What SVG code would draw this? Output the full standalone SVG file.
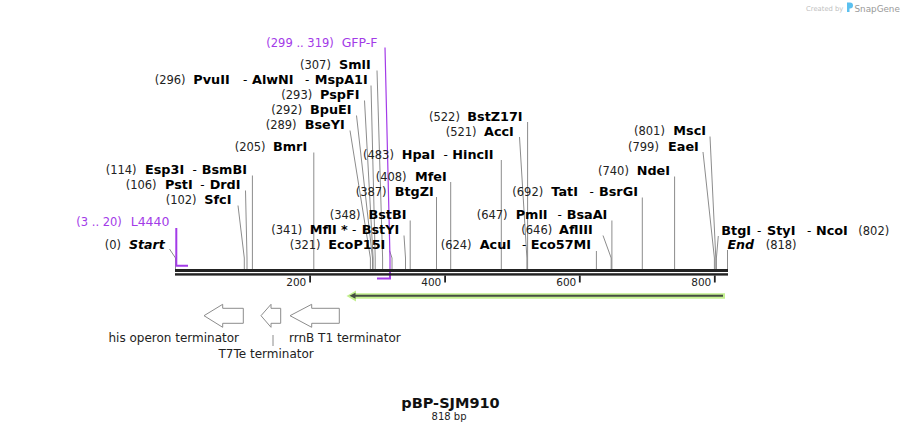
<svg xmlns="http://www.w3.org/2000/svg" width="904" height="435" viewBox="0 0 904 435">
<style>
text{font-family:"DejaVu Sans",Verdana,sans-serif}
.n{font-size:11.5px;fill:#222}
.e{font-size:12.8px;font-weight:bold;fill:#000}
.bi{font-size:12.6px;font-weight:bold;font-style:italic;fill:#000}
.d{font-size:12px;fill:#000}
.p{fill:#a33be8}
.pn{font-size:12.5px;fill:#a33be8}
.c{stroke:#8c8c8c;stroke-width:1;fill:none}
.t{font-size:12px;fill:#222}
.term{fill:#fff;stroke:#8c8c8c;stroke-width:1}
.tick{font-size:10.5px;fill:#222}
</style>
<rect width="904" height="435" fill="#fff"/>

<g id="logo">
<text x="806" y="10.5" font-size="6.8" fill="#c0c0c0">Created by</text>
<path d="M847 2.5 h3 a3 3 0 0 1 0 6 h-0.5 v3.5 h-2.5 z" fill="#5bc0ef"/>
<text x="854.5" y="11.5" font-size="8.8" fill="#999">SnapGene</text>
</g>

<g id="connectors">
<path class="c" d="M377 70.5 L382.6 258 V269"/>
<path class="c" d="M371 85.5 L375.2 258 V269"/>
<path class="c" d="M364.5 100.5 L373.1 258 V269"/>
<path class="c" d="M356.5 115.5 L372.5 258 V269"/>
<path class="c" d="M350 130.5 L370.4 258 V269"/>
<path class="c" d="M313.8 152.5 V269"/>
<path class="c" d="M501.3 160 V269"/>
<path class="c" d="M252.4 175.5 V269"/>
<path class="c" d="M450.7 182 V269"/>
<path class="c" d="M245.5 190.5 L247 258 V269"/>
<path class="c" d="M436.5 197 V269"/>
<path class="c" d="M238 205.5 L244.3 258 V269"/>
<path class="c" d="M410.2 220.5 V269"/>
<path class="c" d="M404 235.5 L405.5 258 V269"/>
<path class="c" d="M169.5 249 L175.5 258 V269"/>
<path class="c" d="M389.5 250.5 L392 258 V269"/>
<path class="c" d="M527.6 122 V269"/>
<path class="c" d="M519.5 137 L526.9 258 V269"/>
<path class="c" d="M642.3 197.5 V269"/>
<path class="c" d="M611.9 220.5 V269"/>
<path class="c" d="M603 235.5 L611.2 258 V269"/>
<path class="c" d="M596.4 251 V269"/>
<path class="c" d="M674.6 176.5 V269"/>
<path class="c" d="M710 136.5 L715.8 258 V269"/>
<path class="c" d="M703 152 L714.4 258 V269"/>
<path class="c" d="M718.3 236 L716.4 258 V269"/>
<path class="c" d="M727.5 250 V269"/>
<path d="M385 47.5 L390 258 V278.5" fill="none" stroke="#a33be8" stroke-width="1.2"/>
<line x1="273" y1="335" x2="273" y2="346" class="c"/>
</g>

<g id="primer-GFP-F">
<path d="M390 271 V278.5 H377" fill="none" stroke="#a33be8" stroke-width="2"/>
<text class="n p" x="266.3" y="46.5">(299 .. 319)</text>
<text class="pn" x="341.7" y="46.5">GFP-F</text>
</g>
<g id="primer-L4440">
<path d="M176.3 228 V265.8 H188" fill="none" stroke="#a33be8" stroke-width="2"/>
<text class="n p" x="76.3" y="226">(3 .. 20)</text>
<text class="pn" x="130.7" y="226">L4440</text>
</g>

<g id="axis">
<rect x="175" y="269" width="553" height="3" fill="#222"/>
<rect x="175" y="273.2" width="553" height="2.4" fill="#222"/>
<rect x="309.2" y="275.5" width="1.8" height="7" fill="#222"/>
<rect x="444.2" y="275.5" width="1.8" height="7" fill="#222"/>
<rect x="578.9" y="275.5" width="1.8" height="7" fill="#222"/>
<rect x="713.9" y="275.5" width="1.8" height="7" fill="#222"/>
<text class="tick" x="306.3" y="286" text-anchor="end">200</text>
<text class="tick" x="441.3" y="286" text-anchor="end">400</text>
<text class="tick" x="576.3" y="286" text-anchor="end">600</text>
<text class="tick" x="711.3" y="286" text-anchor="end">800</text>
</g>

<g id="feature-arrow">
<path d="M352 296 H725" stroke="#c3f08f" stroke-width="5.5" fill="none"/>
<polygon points="346.5,296 356,290.5 356,301.5" fill="#c3f08f"/>
<path d="M354 295.8 H723" stroke="#454d42" stroke-width="2" fill="none"/>
<polygon points="349.5,295.8 355.5,292.8 355.5,298.8" fill="#454d42"/>
</g>

<g id="his-operon-terminator">
<polygon class="term" points="204,315.7 222.7,304.3 222.7,308.3 243.3,308.3 243.3,323.3 222.7,323.3 222.7,327.3"/>
<text class="t" x="108.5" y="341.5">his operon terminator</text>
</g>
<g id="T7Te-terminator">
<polygon class="term" points="261,315.7 271,304.3 271,308.3 280.7,308.3 280.7,323.3 271,323.3 271,327.3"/>
<text class="t" x="218.5" y="357.5">T7Te terminator</text>
</g>
<g id="rrnB-T1-terminator">
<polygon class="term" points="290,315.7 311.7,304.3 311.7,308.3 339.3,308.3 339.3,323.3 311.7,323.3 311.7,327.3"/>
<text class="t" x="289" y="341.5">rrnB T1 terminator</text>
</g>

<g id="SmlI"><text class="n" x="300" y="68.8">(307)</text><text class="e" x="339" y="68.8">SmlI</text></g>
<g id="PvuII"><text class="n" x="154.7" y="84">(296)</text><text class="e" x="193.3" y="84">PvuII</text><text class="d" x="243" y="84">-</text><text class="e" x="252" y="84">AlwNI</text><text class="d" x="305" y="84">-</text><text class="e" x="314.7" y="84">MspA1I</text></g>
<g id="PspFI"><text class="n" x="281.3" y="99">(293)</text><text class="e" x="320" y="99">PspFI</text></g>
<g id="BpuEI"><text class="n" x="271.3" y="114">(292)</text><text class="e" x="310" y="114">BpuEI</text></g>
<g id="BseYI"><text class="n" x="265.7" y="129">(289)</text><text class="e" x="304.7" y="129">BseYI</text></g>
<g id="BmrI"><text class="n" x="234.7" y="150.7">(205)</text><text class="e" x="273" y="150.7">BmrI</text></g>
<g id="HpaI"><text class="n" x="363" y="158.5">(483)</text><text class="e" x="401.7" y="158.5">HpaI</text><text class="d" x="443.5" y="158.5">-</text><text class="e" x="452.3" y="158.5">HincII</text></g>
<g id="Esp3I"><text class="n" x="105.7" y="174">(114)</text><text class="e" x="145" y="174">Esp3I</text><text class="d" x="192.5" y="174">-</text><text class="e" x="201.7" y="174">BsmBI</text></g>
<g id="MfeI"><text class="n" x="375.7" y="180.5">(408)</text><text class="e" x="415" y="180.5">MfeI</text></g>
<g id="PstI"><text class="n" x="125.7" y="189">(106)</text><text class="e" x="165" y="189">PstI</text><text class="d" x="200.3" y="189">-</text><text class="e" x="209.7" y="189">DrdI</text></g>
<g id="BtgZI"><text class="n" x="355.7" y="195.7">(387)</text><text class="e" x="394.7" y="195.7">BtgZI</text></g>
<g id="SfcI"><text class="n" x="165.7" y="204">(102)</text><text class="e" x="204.3" y="204">SfcI</text></g>
<g id="BstBI"><text class="n" x="329.7" y="219">(348)</text><text class="e" x="368.5" y="219">BstBI</text></g>
<g id="MflI"><text class="n" x="271.3" y="234">(341)</text><text class="e" x="309.7" y="234">MflI *</text><text class="d" x="352" y="234">-</text><text class="e" x="361.7" y="234">BstYI</text></g>
<g id="Start"><text class="n" x="104.7" y="249">(0)</text><text class="bi" x="129" y="249">Start</text></g>
<g id="EcoP15I"><text class="n" x="289.7" y="249">(321)</text><text class="e" x="328.3" y="249">EcoP15I</text></g>
<g id="BstZ17I"><text class="n" x="429" y="120.7">(522)</text><text class="e" x="467.3" y="120.7">BstZ17I</text></g>
<g id="AccI"><text class="n" x="445.7" y="135.5">(521)</text><text class="e" x="484" y="135.5">AccI</text></g>
<g id="TatI"><text class="n" x="512.3" y="195.7">(692)</text><text class="e" x="551.3" y="195.7">TatI</text><text class="d" x="589.5" y="195.7">-</text><text class="e" x="599" y="195.7">BsrGI</text></g>
<g id="PmlI"><text class="n" x="476.7" y="219">(647)</text><text class="e" x="515.7" y="219">PmlI</text><text class="d" x="557.5" y="219">-</text><text class="e" x="566.7" y="219">BsaAI</text></g>
<g id="AflIII"><text class="n" x="521.3" y="234">(646)</text><text class="e" x="559" y="234">AflIII</text></g>
<g id="AcuI"><text class="n" x="440.7" y="249">(624)</text><text class="e" x="479.7" y="249">AcuI</text><text class="d" x="522" y="249">-</text><text class="e" x="530.7" y="249">Eco57MI</text></g>
<g id="NdeI"><text class="n" x="598" y="175">(740)</text><text class="e" x="636.7" y="175">NdeI</text></g>
<g id="MscI"><text class="n" x="634" y="135">(801)</text><text class="e" x="673.3" y="135">MscI</text></g>
<g id="EaeI"><text class="n" x="628" y="150.5">(799)</text><text class="e" x="668" y="150.5">EaeI</text></g>
<g id="BtgI"><text class="e" x="721.3" y="234.5">BtgI</text><text class="d" x="757" y="234.5">-</text><text class="e" x="767" y="234.5">StyI</text><text class="d" x="807" y="234.5">-</text><text class="e" x="816" y="234.5">NcoI</text><text class="n" x="858.3" y="234.5">(802)</text></g>
<g id="End"><text class="bi" x="727.5" y="249">End</text><text class="n" x="765.7" y="249">(818)</text></g>

<g id="title">
<text x="450.5" y="408" text-anchor="middle" font-size="14.5" font-weight="bold" fill="#111">pBP-SJM910</text>
<text x="449" y="419.5" text-anchor="middle" font-size="10" fill="#222">818 bp</text>
</g>
</svg>
